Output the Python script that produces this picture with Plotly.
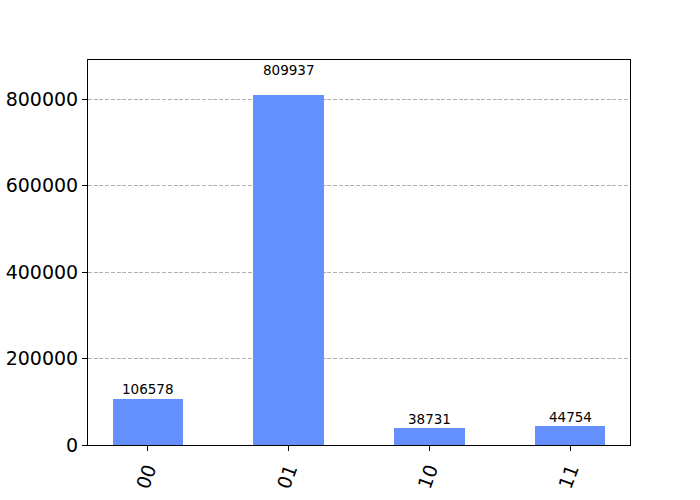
import plotly.graph_objects as go

states = ["00", "01", "10", "11"]
counts = [106578, 809937, 38731, 44754]
ytick_vals = [0, 200000, 400000, 600000, 800000]
ytick_text = ["0", "200000", "400000", "600000", "800000"]

bar_color = "#648fff"
font_family = "DejaVu Sans"

x_pos = list(range(len(states)))

fig = go.Figure()
fig.add_trace(go.Bar(
    x=x_pos, y=counts, width=0.5,
    marker=dict(color=bar_color, line=dict(width=0)),
    hoverinfo="skip",
))

for xi, c in zip(x_pos, counts):
    fig.add_annotation(
        x=xi, y=1.05 * c, xref="x", yref="y",
        text=str(c), showarrow=False, yanchor="bottom", xanchor="center",
        font=dict(family=font_family, size=13.5, color="black"),
        yshift=-2,
    )

fig.update_layout(
    width=700, height=500,
    margin=dict(l=88, r=70, t=60, b=55, autoexpand=False),
    plot_bgcolor="white", paper_bgcolor="white",
    showlegend=False,
    bargap=0,
)

fig.update_xaxes(
    range=[-0.425, len(states) - 1 + 0.425],
    tickvals=x_pos, ticktext=states, tickangle=-70,
    tickfont=dict(family=font_family, size=19, color="black"),
    showline=True, linecolor="black", linewidth=1, mirror=True,
    ticks="outside", ticklen=5, tickcolor="black",
    showgrid=False, zeroline=False, automargin=False,
)
fig.update_yaxes(
    range=[0, 1.1 * max(counts)],
    tickvals=ytick_vals, ticktext=ytick_text,
    tickfont=dict(family=font_family, size=19, color="black"),
    showline=True, linecolor="black", linewidth=1, mirror=True,
    ticks="outside", ticklen=5, tickcolor="black",
    showgrid=True, gridcolor="#b0b0b0", griddash="4px,1.7px", gridwidth=1,
    zeroline=False, automargin=False,
)

fig.write_html(
    "out.html",
    config={"displayModeBar": False},
    post_script="document.body.style.margin='0';",
)
